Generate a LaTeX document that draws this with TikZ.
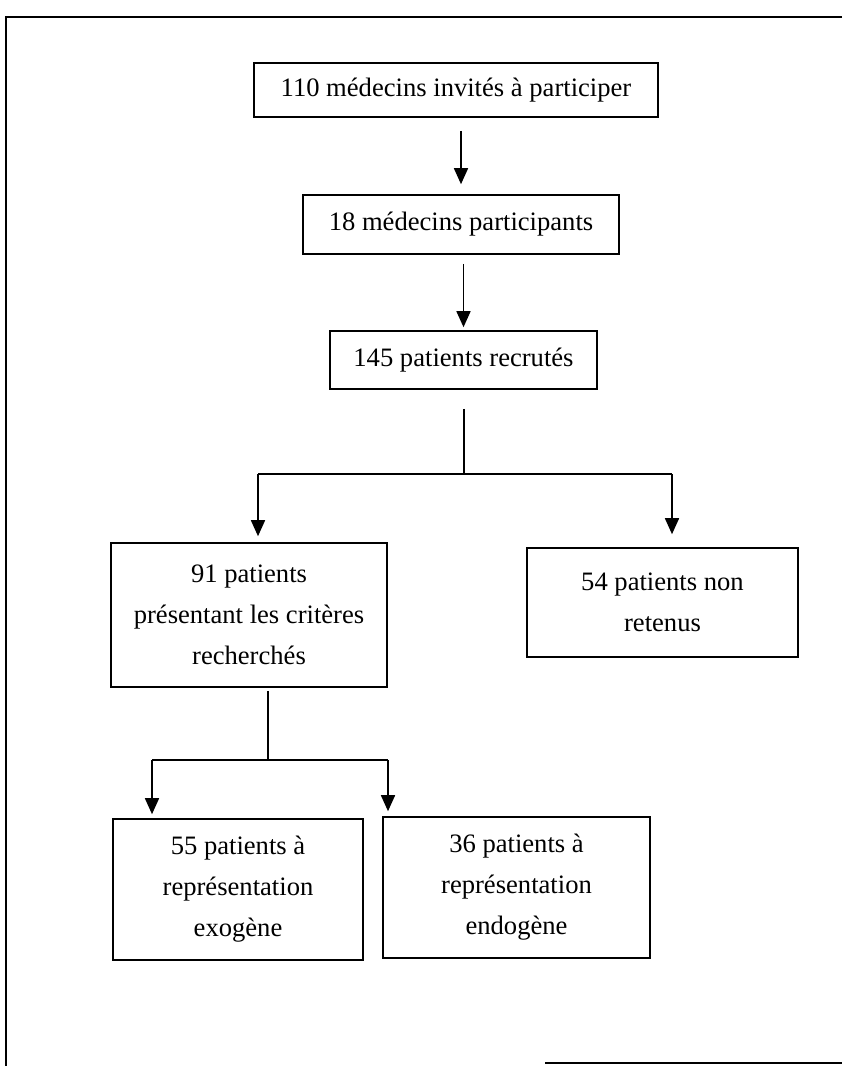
\documentclass[tikz,border=0pt]{standalone}
\usepackage{fontspec}
\setmainfont{Liberation Serif}
\usetikzlibrary{arrows.meta,positioning}

\begin{document}
\begin{tikzpicture}[x=0.5pt, y=-0.5pt]
    \tikzstyle{stage} = [rectangle, draw=black, line width=0.8pt, inner sep=0pt, align=center, font=\fontsize{13.3}{20.5}\selectfont]
    \tikzstyle{arr} = [line width=0.8pt, -{Triangle[length=8pt, width=7pt]}, draw=black]
    \tikzstyle{link} = [line width=0.8pt, draw=black]

    \useasboundingbox (0,0) rectangle (842,1071);
    % page frame
    \draw [link] (842,17) -- (6,17) -- (6,1066);
    \draw [link] (545,1063) -- (842,1063);

    \node [stage, minimum width=202pt, minimum height=27pt] (invites) at (456,90) {110 médecins invités à participer};
    \node [stage, minimum width=158pt, minimum height=29.5pt] (participants) at (461,224.5) {18 médecins participants};
    \node [stage, minimum width=133.5pt, minimum height=29pt] (recrutes) at (463.5,360) {145 patients recrutés};
    \node [stage, minimum width=138pt, minimum height=72pt] (criteres) at (249,615) {91 patients\\présentant les critères\\recherchés};
    \node [stage, minimum width=135.5pt, minimum height=54.5pt] (retenus) at (662.5,602.5) {54 patients non\\retenus};
    \node [stage, minimum width=125pt, minimum height=70.5pt] (exogene) at (238,889.5) {55 patients à\\représentation\\exogène};
    \node [stage, minimum width=133.5pt, minimum height=70.5pt] (endogene) at (516.5,887.5) {36 patients à\\représentation\\endogène};

    \draw [arr, shorten <=6.5pt, shorten >=5pt] (invites.south -| participants.north) -- (participants.north);
    \draw [arr, shorten <=4.5pt, shorten >=1.5pt] (participants.south -| recrutes.north) -- (recrutes.north);

    % first split
    \coordinate (fork1) at (464,474);
    \coordinate (fork1l) at (258,474);
    \coordinate (fork1r) at (672,474);
    \draw [link, shorten <=9.5pt] (recrutes.south -| fork1) -- (fork1);
    \draw [link] (fork1l) -- (fork1r);
    \draw [arr, shorten >=3pt] (fork1l) -- (fork1l |- criteres.north);
    \draw [arr, shorten >=6.5pt] (fork1r) -- (fork1r |- retenus.north);

    % second split
    \coordinate (fork2) at (268,760);
    \coordinate (fork2l) at (152,760);
    \coordinate (fork2r) at (388,760);
    \draw [link, shorten <=1.5pt] (criteres.south -| fork2) -- (fork2);
    \draw [link] (fork2l) -- (fork2r);
    \draw [arr, shorten >=2pt] (fork2l) -- (fork2l |- exogene.north);
    \draw [arr, shorten >=2.5pt] (fork2r) -- (fork2r |- endogene.north);
\end{tikzpicture}
\end{document}
